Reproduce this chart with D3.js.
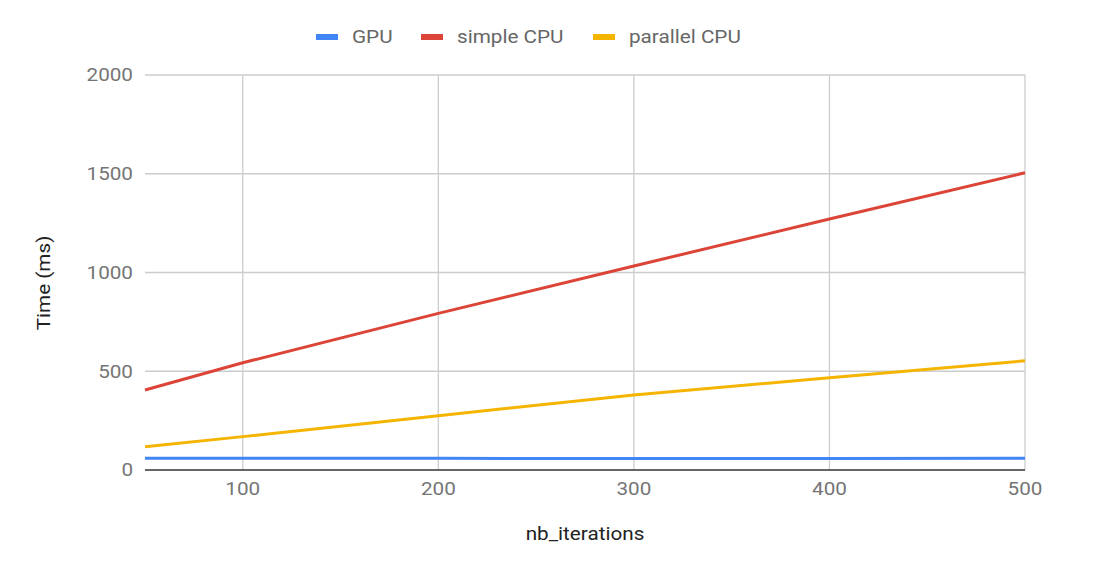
<!DOCTYPE html>
<html>
<head>
<meta charset="utf-8">
<script src="https://cdn.jsdelivr.net/npm/d3@7"></script>
<style>
  body { margin: 0; background: #fff; }
  svg { font-family: Roboto, "Noto Sans", sans-serif; }
</style>
</head>
<body>
<svg id="chart" width="1100" height="561"></svg>
<script>
// data
const iterations = [50, 100, 200, 300, 400, 500];
const gpu = [59, 59, 59, 58, 58, 59];
const simpleCpu = [405, 543, 793, 1033, 1271, 1505];
const parallelCpu = [118, 169, 275, 380, 467, 553];

const seriesNames = ["GPU", "simple CPU", "parallel CPU"];
const seriesColors = ["#4285f4", "#db4437", "#f4b400"];
const xTicks = [100, 200, 300, 400, 500];
const yTicks = [0, 500, 1000, 1500, 2000];

const series = [gpu, simpleCpu, parallelCpu].map((vals, i) => ({
  name: seriesNames[i],
  color: seriesColors[i],
  points: vals.map((v, j) => ({ x: iterations[j], y: v }))
}));

const margin = { top: 75, right: 75, bottom: 91, left: 145 };
const width = 1100, height = 561;
const fontSize = 18;
const stretch = 1.15; // the reference's glyphs run a bit wider than Roboto

const svg = d3.select("#chart");

const x = d3.scaleLinear()
  .domain([50, 500])
  .range([margin.left, width - margin.right]);
const y = d3.scaleLinear()
  .domain([0, 2000])
  .range([height - margin.bottom, margin.top]);

// grid
const grid = svg.append("g").attr("class", "grid");
grid.selectAll("line.h")
  .data(yTicks.filter(d => d > 0))
  .join("line")
  .attr("class", "h")
  .attr("x1", x.range()[0])
  .attr("x2", x.range()[1])
  .attr("y1", d => y(d))
  .attr("y2", d => y(d))
  .attr("stroke", "#cccccc")
  .attr("stroke-width", 1.3);
grid.selectAll("line.v")
  .data(xTicks)
  .join("line")
  .attr("class", "v")
  .attr("x1", d => x(d))
  .attr("x2", d => x(d))
  .attr("y1", y.range()[0])
  .attr("y2", y.range()[1])
  .attr("stroke", "#cccccc")
  .attr("stroke-width", 1.3);

// y axis labels
svg.append("g")
  .selectAll("text")
  .data(yTicks)
  .join("text")
  .attr("transform", d => `translate(133,${y(d)}) scale(${stretch},1)`)
  .attr("dy", "0.35em")
  .attr("text-anchor", "end")
  .attr("font-size", fontSize)
  .attr("fill", "#757575")
  .text(d => d);

// x axis labels
svg.append("g")
  .selectAll("text")
  .data(xTicks)
  .join("text")
  .attr("transform", d => `translate(${x(d)},${y(0) + 25}) scale(${stretch},1)`)
  .attr("text-anchor", "middle")
  .attr("font-size", fontSize)
  .attr("fill", "#757575")
  .text(d => d);

// lines
const line = d3.line().x(d => x(d.x)).y(d => y(d.y));
svg.append("g")
  .selectAll("path")
  .data(series)
  .join("path")
  .attr("d", d => line(d.points))
  .attr("fill", "none")
  .attr("stroke", d => d.color)
  .attr("stroke-width", 3)
  .attr("stroke-linejoin", "round");

// baseline
svg.append("line")
  .attr("x1", x.range()[0])
  .attr("x2", x.range()[1])
  .attr("y1", y(0))
  .attr("y2", y(0))
  .attr("stroke", "#333333")
  .attr("stroke-width", 1.3);

// axis titles
svg.append("text")
  .attr("transform", `translate(${(x.range()[0] + x.range()[1]) / 2},540) scale(${stretch},1)`)
  .attr("text-anchor", "middle")
  .attr("font-size", fontSize)
  .attr("fill", "#222222")
  .text("nb_iterations");

svg.append("text")
  .attr("transform", `translate(50,283) rotate(-90) scale(${stretch},1)`)
  .attr("text-anchor", "middle")
  .attr("font-size", fontSize)
  .attr("fill", "#222222")
  .text("Time (ms)");

// legend
const legendX = [316, 421, 593];
const legend = svg.append("g")
  .selectAll("g")
  .data(series)
  .join("g")
  .attr("transform", (d, i) => `translate(${legendX[i]},37)`);
legend.append("rect")
  .attr("x", 0)
  .attr("y", -3)
  .attr("width", 22)
  .attr("height", 6)
  .attr("fill", d => d.color);
legend.append("text")
  .attr("transform", `translate(36,0) scale(${stretch},1)`)
  .attr("dy", "0.35em")
  .attr("font-size", fontSize)
  .attr("fill", "#666666")
  .text(d => d.name);
</script>
</body>
</html>
